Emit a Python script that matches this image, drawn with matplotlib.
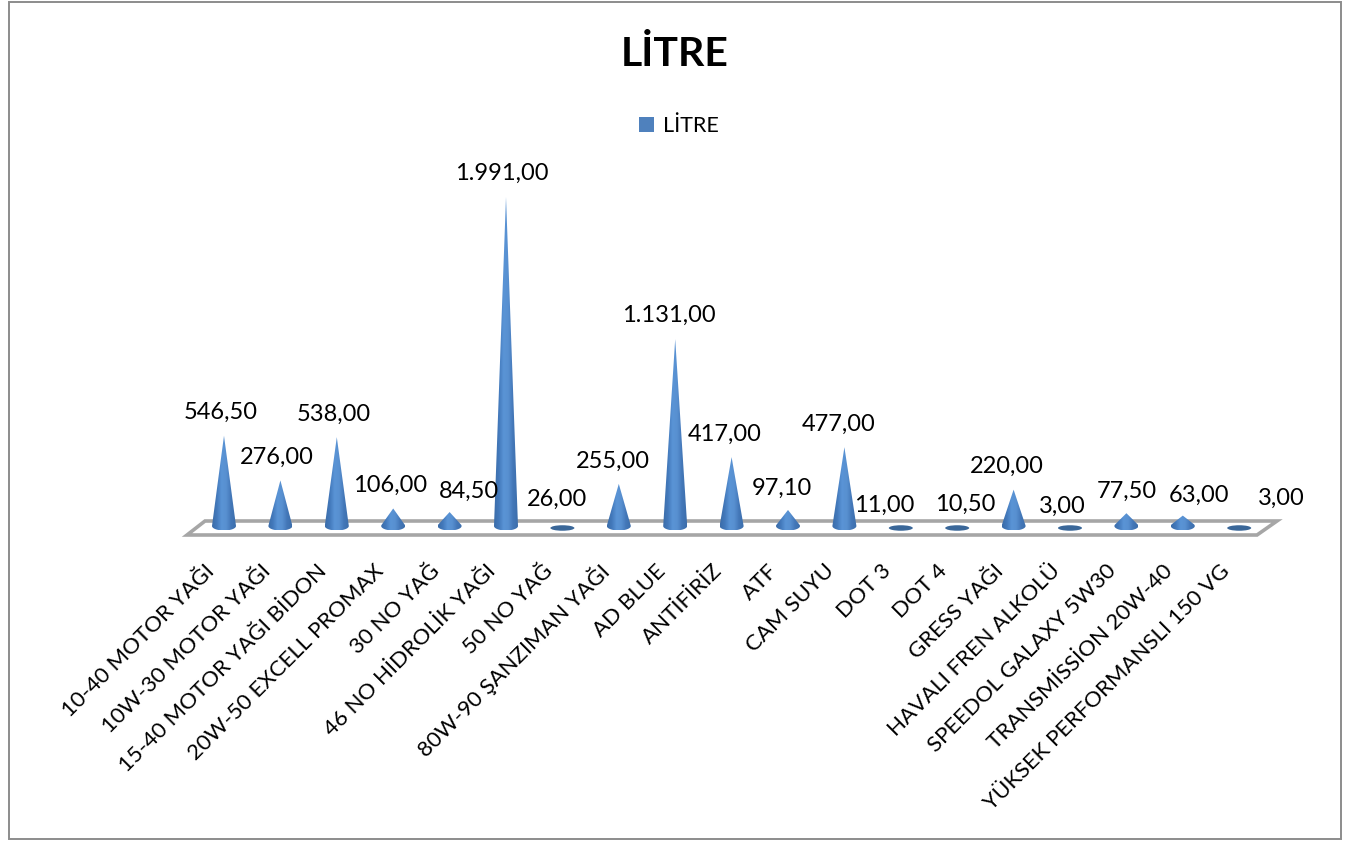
import numpy as np
import matplotlib
matplotlib.use("Agg")
import matplotlib.pyplot as plt
from matplotlib.colors import LinearSegmentedColormap
from matplotlib.patches import Ellipse, Patch, PathPatch, Polygon, Rectangle
from matplotlib.path import Path
from matplotlib.transforms import ScaledTranslation

plt.rcParams['font.family'] = ['Lato', 'DejaVu Sans']

# values
categories = ["10-40 MOTOR YAĞI", "10W-30 MOTOR YAĞI", "15-40 MOTOR YAĞI BİDON",
              "20W-50 EXCELL PROMAX", "30 NO YAĞ", "46 NO HİDROLİK YAĞI", "50 NO YAĞ",
              "80W-90 ŞANZIMAN YAĞI", "AD BLUE", "ANTİFİRİZ", "ATF", "CAM SUYU",
              "DOT 3", "DOT 4", "GRESS YAĞI", "HAVALI FREN ALKOLÜ",
              "SPEEDOL GALAXY 5W30", "TRANSMİSSİON 20W-40", "YÜKSEK PERFORMANSLI 150 VG"]
litres = [546.5, 276, 538, 106, 84.5, 1991, 26, 255, 1131, 417, 97.1, 477,
          11, 10.5, 220, 3, 77.5, 63, 3]
labels = ["546,50", "276,00", "538,00", "106,00", "84,50", "1.991,00", "26,00",
          "255,00", "1.131,00", "417,00", "97,10", "477,00", "11,00", "10,50",
          "220,00", "3,00", "77,50", "63,00", "3,00"]

# label offsets from the cone tip, in pixels
label_dx = [-3, -4, -3, -3, 19, -4, -5, -6, -6, -7, -6, -6, -17, 8, -7, -8, 0, 16, 42]
label_dy = [23, 23, 23, 23, 21, 24, 22, 23, 24, 23, 22, 23, 19, 20, 23, 19, 22, 20, 27]

W, H = 1352, 841
# axes reach 8px below the zero line so the round cone bases are not cut off
fig = plt.figure(figsize=(W / 100, H / 100), dpi=100)
ax = fig.add_axes([195.8 / W, (H - 534) / H, 1071.6 / W, 337 / H])
ax.patch.set_visible(False)
x_pos = np.arange(len(categories))

# cone sizes, pixels converted to data units
y_scale = 329 / 1991
half_w = 12 / 56.4
half_h = 4.5 / y_scale

cone_cmap = LinearSegmentedColormap.from_list(
    "cone", ["#3b6ca9", "#4379bb", "#5a94d6", "#5890d0", "#4377b8", "#3d6eab"])
grad = np.linspace(0, 1, 64).reshape(1, -1)

# the floor of the 3d chart
floor = Polygon(np.array([(187, 535), (205, 521), (1277, 521), (1257, 535)]) / [W, H * -1] + [0, 1],
                closed=True, fill=False, edgecolor="#a6a6a6", linewidth=2.6,
                transform=fig.transFigure, clip_on=False, zorder=0.5)
ax.add_patch(floor)

for x, v in zip(x_pos, litres):
    if v <= half_h * 1.2:
        # nearly empty: only the flat base shows
        flat = Ellipse((x, -2 / y_scale), 2 * half_w, 5.5 / y_scale, facecolor="#3a6799",
                       edgecolor="none", zorder=2, clip_on=False)
        ax.add_patch(flat)
        continue
    # tip plus the part of the base ellipse below the tangent points
    a0 = np.arcsin(half_h / v)
    t = np.linspace(np.pi - a0, 2 * np.pi + a0, 40)
    verts = [(x, v)] + [(x + half_w * np.cos(a), half_h * np.sin(a)) for a in t] + [(x, v)]
    codes = [Path.MOVETO] + [Path.LINETO] * (len(verts) - 2) + [Path.CLOSEPOLY]
    clip = PathPatch(Path(verts, codes), facecolor="none", edgecolor="none",
                     transform=ax.transData)
    ax.add_patch(clip)
    im = ax.imshow(grad, cmap=cone_cmap, aspect="auto", zorder=3, interpolation="bilinear",
                   extent=(x - half_w, x + half_w, -half_h, v))
    im.set_clip_path(clip)

ax.set_xlim(-0.5, len(categories) - 0.5)
ax.set_ylim(-8 / y_scale, 1991)

for x, v, s, dx, dy in zip(x_pos, litres, labels, label_dx, label_dy):
    ax.annotate(s, (x, v), xytext=(dx, dy), textcoords="offset pixels", ha="center",
                va="center", fontsize=17, color="black", annotation_clip=False, zorder=5)

ax.set_xticks(x_pos)
ax.set_xticklabels(categories, rotation=45, ha="right", va="center",
                   rotation_mode="anchor", fontsize=16)
ax.tick_params(axis="x", length=0)
shift = ScaledTranslation(-13 / 100, -29 / 100, fig.dpi_scale_trans)
for tl in ax.get_xticklabels():
    tl.set_transform(tl.get_transform() + shift)
ax.set_yticks([])
for sp in ax.spines.values():
    sp.set_visible(False)

fig.text(675 / W, 1 - 55 / H, "LİTRE", ha="center", va="center", fontsize=29.5, fontweight="bold")
ax.legend(handles=[Patch(facecolor="#4f81bd", label="LİTRE")], loc="center",
          bbox_to_anchor=(679 / W, 1 - 126 / H), bbox_transform=fig.transFigure,
          frameon=False, fontsize=15.5, handlelength=0.7, handleheight=0.7,
          handletextpad=0.4)

# outer chart border
fig.add_artist(Rectangle((8.5 / W, 2 / H), 1332.5 / W, 837 / H, fill=False, edgecolor="#8c8c8c",
                         linewidth=1.4, transform=fig.transFigure))

fig.savefig("out.png", dpi=100)
